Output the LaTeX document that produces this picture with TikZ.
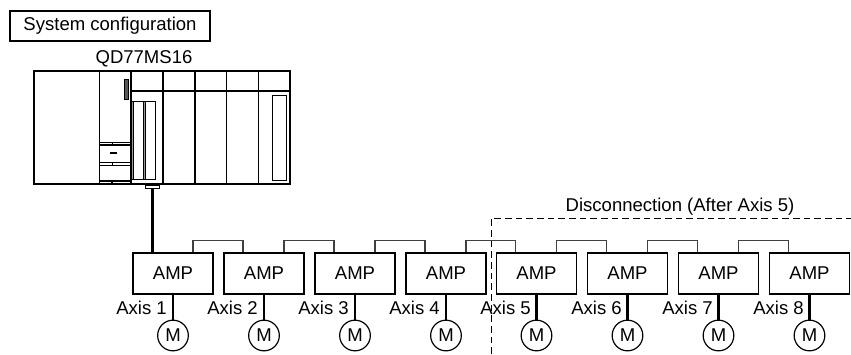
\documentclass[tikz,border=0pt]{standalone}
\usepackage{fontspec}
\setmainfont{Liberation Sans}
\usetikzlibrary{positioning}

\begin{document}
\begin{tikzpicture}[x=.75pt,y=.75pt,
  lab/.style={font=\fontsize{13.9}{16}\selectfont, inner sep=0pt},
  titlebox/.style={lab, draw, line width=1pt, minimum width=150pt, minimum height=22.5pt},
  amp/.style={lab, draw, line width=1.1pt, minimum width=60pt, minimum height=31pt},
  motor/.style={lab, draw, circle, line width=.9pt, minimum size=23pt},
  stem/.style={line width=1.7pt},
  bridge/.style={line width=.9pt, draw=black!75},
  rackline/.style={line width=.95pt},
  thin part/.style={line width=.7pt},
  cutline/.style={line width=.6pt, dash pattern=on 5pt off 3pt}]
  \useasboundingbox (0,0) rectangle (851,-354);
  % all coordinates in pixels of the sheet, y going down from 0
  \node[titlebox] (title) at (110,-26) {System configuration};
  \node[lab] (unit) at (144,-59) {QD77MS16};

  % base unit
  \node[draw, rackline, minimum width=192pt, minimum height=84.75pt, inner sep=0pt] (rack) at (162,-127.5) {};
  \draw[rackline] (99.5,-71) -- (99.5,-184);
  \draw[rackline] (131,-71) -- (131,-184);
  \draw[rackline] (163,-71) -- (163,-184);
  \draw[rackline] (195,-71) -- (195,-184);
  \draw[rackline] (226.5,-71) -- (226.5,-184);
  \draw[rackline] (258.5,-71) -- (258.5,-184);
  \draw[rackline] (131,-91) -- (290,-91);
  \draw[thin part, fill=black!65] (124,-79) rectangle (128,-99);
  \draw[thin part, fill=black!40] (131,-101) rectangle (133,-179);
  \draw[thin part] (133,-101) rectangle (143,-179);
  \draw[thin part, fill=black!40] (143,-101) rectangle (145,-179);
  \draw[thin part] (145,-101) rectangle (155,-179);
  \draw[thin part] (272,-95) rectangle (286,-180);
  \draw[thin part] (99.5,-142) -- (131,-142);
  \draw[rackline] (99.5,-145) -- (131,-145);
  \draw[thin part] (99.5,-162.5) -- (131,-162.5);
  \draw[rackline] (99.5,-165.5) -- (131,-165.5);
  \draw[thin part] (112,-142) -- (112,-145);
  \draw[thin part] (112,-162.5) -- (112,-165.5);
  \draw[rackline] (99.5,-181) -- (131,-181);
  \draw[rackline] (112,-181) -- (112,-184);
  \draw[line width=1.2pt] (110,-153) -- (117,-153);
  \node[draw, thin part, minimum width=11pt, minimum height=2.2pt, inner sep=0pt] (tab) at (152.5,-186.5) {};

  \node[amp] (amp1) at (173,-273.5) {AMP};
  \node[amp] (amp2) at (264,-273.5) {AMP};
  \node[amp] (amp3) at (355,-273.5) {AMP};
  \node[amp] (amp4) at (446,-273.5) {AMP};
  \node[amp] (amp5) at (536.5,-273.5) {AMP};
  \node[amp] (amp6) at (627.5,-273.5) {AMP};
  \node[amp] (amp7) at (718.5,-273.5) {AMP};
  \node[amp] (amp8) at (809.5,-273.5) {AMP};

  \node[motor] (m1) at (173,-335.5) {M};
  \node[motor] (m2) at (264,-335.5) {M};
  \node[motor] (m3) at (355,-335.5) {M};
  \node[motor] (m4) at (446,-335.5) {M};
  \node[motor] (m5) at (536.5,-335.5) {M};
  \node[motor] (m6) at (627.5,-335.5) {M};
  \node[motor] (m7) at (718.5,-335.5) {M};
  \node[motor] (m8) at (809.5,-335.5) {M};

  \node[lab, anchor=east] (ax1) at (167,-308) {Axis 1};
  \node[lab, anchor=east] (ax2) at (258,-308) {Axis 2};
  \node[lab, anchor=east] (ax3) at (349,-308) {Axis 3};
  \node[lab, anchor=east] (ax4) at (440,-308) {Axis 4};
  \node[lab, anchor=east] (ax5) at (531,-308) {Axis 5};
  \node[lab, anchor=east] (ax6) at (622,-308) {Axis 6};
  \node[lab, anchor=east] (ax7) at (713,-308) {Axis 7};
  \node[lab, anchor=east] (ax8) at (804,-308) {Axis 8};

  \draw[stem] (tab.south) -- (tab.south |- amp1.north);
  \draw[stem] (amp1) -- (m1);
  \draw[stem] (amp2) -- (m2);
  \draw[stem] (amp3) -- (m3);
  \draw[stem] (amp4) -- (m4);
  \draw[stem] (amp5) -- (m5);
  \draw[stem] (amp6) -- (m6);
  \draw[stem] (amp7) -- (m7);
  \draw[stem] (amp8) -- (m8);

  \draw[bridge] ([xshift=15pt]amp1.north) -- ++(0,11.5) -| ([xshift=-15.75pt]amp2.north);
  \draw[bridge] ([xshift=15pt]amp2.north) -- ++(0,11.5) -| ([xshift=-15.75pt]amp3.north);
  \draw[bridge] ([xshift=15pt]amp3.north) -- ++(0,11.5) -| ([xshift=-15.75pt]amp4.north);
  \draw[bridge] ([xshift=15pt]amp4.north) -- ++(0,11.5) -| ([xshift=-15.75pt]amp5.north);
  \draw[bridge] ([xshift=15pt]amp5.north) -- ++(0,11.5) -| ([xshift=-15.75pt]amp6.north);
  \draw[bridge] ([xshift=15pt]amp6.north) -- ++(0,11.5) -| ([xshift=-15.75pt]amp7.north);
  \draw[bridge] ([xshift=15pt]amp7.north) -- ++(0,11.5) -| ([xshift=-15.75pt]amp8.north);

  % cut-off region
  \node[lab] (cut) at (680,-207) {Disconnection (After Axis 5)};
  \draw[cutline] (491,-354) -- (491,-218.5) -- (851,-218.5);
\end{tikzpicture}
\end{document}
